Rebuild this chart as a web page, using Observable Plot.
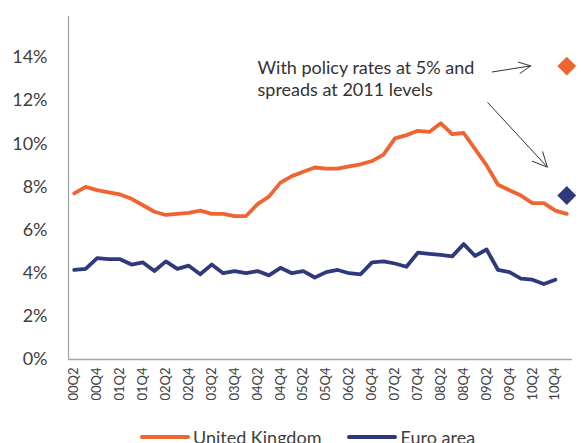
<!DOCTYPE html>
<html>
<head>
<meta charset="utf-8">
<script src="https://cdn.jsdelivr.net/npm/d3@7"></script>
<script src="https://cdn.jsdelivr.net/npm/@observablehq/plot@0.6"></script>
<style>
  html, body { margin: 0; padding: 0; background: #fff; }
  body { width: 581px; height: 443px; overflow: hidden; font-family: Lato, "Open Sans", sans-serif; }
  #legend { display: flex; justify-content: center; align-items: center; gap: 26px; font-size: 18px; color: #404040; height: 28px; margin-left: 34px; }
  .item { display: flex; align-items: center; gap: 3px; }
  .sw { width: 50px; height: 4px; border-radius: 2px; }
</style>
</head>
<body>
<div id="chart"></div>
<div id="legend"></div>
<script>
const quarters = ["00Q2","00Q3","00Q4","01Q1","01Q2","01Q3","01Q4","02Q1","02Q2","02Q3","02Q4",
  "03Q1","03Q2","03Q3","03Q4","04Q1","04Q2","04Q3","04Q4","05Q1","05Q2","05Q3","05Q4",
  "06Q1","06Q2","06Q3","06Q4","07Q1","07Q2","07Q3","07Q4","08Q1","08Q2","08Q3","08Q4",
  "09Q1","09Q2","09Q3","09Q4","10Q1","10Q2","10Q3","10Q4","11Q1"];
const ukValues = [7.7, 8.0, 7.85, 7.75, 7.65, 7.45, 7.15, 6.85, 6.7, 6.75, 6.8, 6.9, 6.75, 6.75, 6.65, 6.65,
  7.2, 7.55, 8.2, 8.5, 8.7, 8.9, 8.85, 8.85, 8.95, 9.05, 9.2, 9.5, 10.25, 10.4, 10.6, 10.55, 10.95,
  10.45, 10.5, 9.75, 9.0, 8.1, 7.85, 7.6, 7.25, 7.25, 6.9, 6.75];
const euroValues = [4.15, 4.2, 4.7, 4.65, 4.65, 4.4, 4.5, 4.1, 4.55, 4.2, 4.35, 3.95, 4.4, 4.0, 4.1, 4.0,
  4.1, 3.9, 4.25, 4.0, 4.1, 3.8, 4.05, 4.15, 4.0, 3.95, 4.5, 4.55, 4.45, 4.3, 4.95, 4.9, 4.85,
  4.78, 5.35, 4.8, 5.1, 4.15, 4.05, 3.75, 3.7, 3.5, 3.7];
const seriesNames = ["United Kingdom", "Euro area"];
const seriesColors = ["#EF6531", "#2F3A7C"];
// Scenario: policy rates at 5% and spreads at 2011 levels
const scenarioQuarter = "11Q1";
const scenarioValues = [13.6, 7.6];
const yTicks = [0, 2, 4, 6, 8, 10, 12, 14];
const annotationLines = ["With policy rates at 5% and", "spreads at 2011 levels"];
const annotationQuarter = "04Q2";
const annotationY = [13.5, 12.47];
// arrows: [x1 (quarter index), y1, x2, y2]
const arrowFrom = [[36.5, 13.33], [36.1, 11.91]];
const arrowTo = [[39.85, 13.61], [41.3, 8.92]];

const idx = q => quarters.indexOf(q);
const ukData = ukValues.map((v, i) => ({i, v}));
const euroData = euroValues.map((v, i) => ({i, v}));
const scenario = scenarioValues.map((v, k) => ({i: idx(scenarioQuarter), v, c: seriesColors[k]}));
const annot = annotationLines.map((t, k) => ({i: idx(annotationQuarter), v: annotationY[k], t}));
const arrows = arrowFrom.map((f, k) => ({x1: f[0], y1: f[1], x2: arrowTo[k][0], y2: arrowTo[k][1]}));
const xTicks = quarters.map((q, i) => i).filter(i => i % 2 === 0 && i < quarters.length - 1);

const chart = Plot.plot({
  width: 581,
  height: 423,
  marginLeft: 68,
  marginRight: 9,
  marginTop: 16,
  marginBottom: 64,
  style: {fontFamily: "Lato, 'Open Sans', sans-serif", color: "#404040", background: "#fff"},
  x: {domain: [-0.5, quarters.length - 0.5], axis: null},
  y: {domain: [0, 15.9], axis: null},
  marks: [
    Plot.axisY({ticks: yTicks, tickSize: 0, tickPadding: 21, tickFormat: d => d + "%", fontSize: 18, fill: "#404040"}),
    Plot.axisX({ticks: xTicks, tickSize: 0, tickPadding: 8, tickRotate: -90, tickFormat: i => quarters[i], fontSize: 13, fill: "#404040"}),
    Plot.ruleX([-0.5], {y1: 0, y2: 15.9, stroke: "#a6a6a6", strokeWidth: 1.3}),
    Plot.ruleY([0], {stroke: "#a6a6a6", strokeWidth: 1.3}),
    Plot.line(ukData, {x: "i", y: "v", stroke: seriesColors[0], strokeWidth: 3.8, strokeLinejoin: "round", strokeLinecap: "round"}),
    Plot.line(euroData, {x: "i", y: "v", stroke: seriesColors[1], strokeWidth: 3.8, strokeLinejoin: "round", strokeLinecap: "round"}),
    Plot.dot(scenario, {x: "i", y: "v", symbol: "diamond2", r: 8.5, fill: d => d.c, stroke: null}),
    Plot.text(annot, {x: "i", y: "v", text: "t", textAnchor: "start", fontSize: 18, fill: "#333", dx: 0}),
    Plot.arrow(arrows, {x1: "x1", y1: "y1", x2: "x2", y2: "y2", stroke: "#333", strokeWidth: 1, headLength: 24, headAngle: 52})
  ]
});
document.getElementById("chart").appendChild(chart);

const legend = document.getElementById("legend");
seriesNames.forEach((n, k) => {
  const it = document.createElement("div");
  it.className = "item";
  const sw = document.createElement("div");
  sw.className = "sw";
  sw.style.background = seriesColors[k];
  const tx = document.createElement("span");
  tx.textContent = n;
  it.appendChild(sw); it.appendChild(tx);
  legend.appendChild(it);
});
</script>
</body>
</html>
